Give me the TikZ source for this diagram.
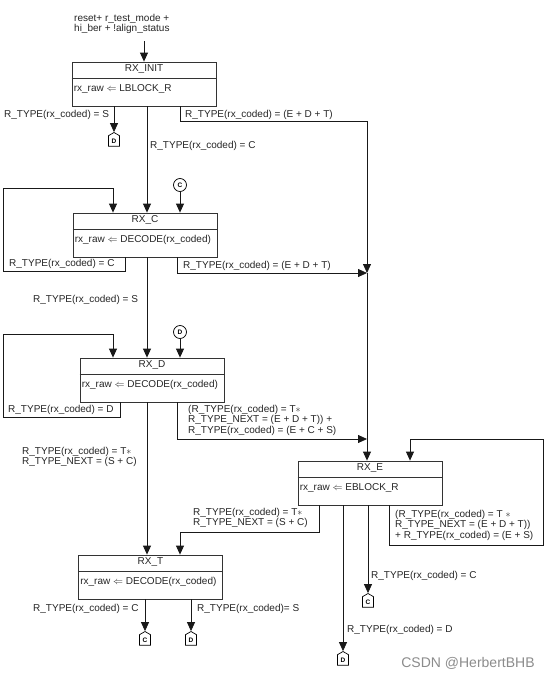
\documentclass[tikz,border=0pt]{standalone}
\usepackage{fontspec}
\setmainfont{Liberation Sans}
\usetikzlibrary{arrows.meta,shapes.symbols,calc}

\begin{document}
\begin{tikzpicture}[x=1pt,y=-1pt,>={Triangle[length=9pt,width=8pt]},
  lbl/.style={font=\fontsize{10}{10.5}\selectfont,text=black!85,inner sep=0pt,align=left},
  stato/.style={draw=black!80,line width=0.8pt,minimum width=144pt,minimum height=44pt,inner sep=0pt},
  titolo/.style={font=\fontsize{10}{12}\selectfont,text=black!85,inner sep=0pt},
  conn/.style={draw,circle,line width=0.7pt,minimum size=13pt,inner sep=0pt,font=\fontsize{6.5}{6.5}\selectfont\bfseries},
  pagina/.style={draw,signal,signal to=north,signal pointer angle=120,line width=0.7pt,minimum width=11pt,minimum height=12pt,inner sep=0pt,font=\fontsize{6.5}{6.5}\selectfont\bfseries},
  freccia/.style={->,line width=0.8pt,black!90}]
  \useasboundingbox (0,0) rectangle (554,680);
  \fill[white] (0,0) rectangle (554,680);
  % stati: titolo, separatore e azione
  \foreach \n/\p/\t/\c in {init/{144,84}/RX\_INIT/LBLOCK\_R,
      rxc/{145,235}/RX\_C/DECODE(rx\_coded),
      rxd/{152,380}/RX\_D/DECODE(rx\_coded),
      rxe/{370,483}/RX\_E/EBLOCK\_R,
      rxt/{150.5,577}/RX\_T/DECODE(rx\_coded)} {
    \node[stato] (\n) at (\p) {};
    \node[titolo] at ($(\n.north)+(0,7)$) {\t};
    \draw[line width=0.8pt,black!80] ($(\n.north west)+(0,17)$) -- ($(\n.north east)+(0,17)$);
    \node[lbl,anchor=west] at ($(\n.north west)+(2,27)$) {rx\_raw $\Leftarrow$ \c};
  }
  % connettori di pagina e punti di giunzione
  \node[conn] (cC) at (180,185) {C};
  \node[conn] (cD) at (180,332) {D};
  \node[pagina] (pD1) at (114,141) {D};
  \node[pagina] (pC2) at (368,602) {C};
  \node[pagina] (pD2) at (343,660) {D};
  \node[pagina] (pC3) at (145,640) {C};
  \node[pagina] (pD3) at (191,640) {D};
  \coordinate (e1) at (367,121);
  \coordinate (e2) at (367,273);
  \coordinate (e3) at (367,439);
  % ingresso
  \node[lbl,anchor=north west] (ingr) at (74,14) {reset+ r\_test\_mode +\\hi\_ber + !align\_status};
  \draw[freccia] ($(ingr.south -| init.north)+(0,7)$) -- (init.north);
  % uscite di RX_INIT
  \draw[freccia] (init.south -| pD1) -- (pD1.north);
  \draw[freccia] (init.south -| 147,0) -- (rxc.north -| 147,0);
  \draw[line width=0.8pt,black!90] (init.south -| 180,0) |- (e1);
  \draw[freccia] (e1) -- (e2);
  \draw[freccia] (e2) -- (rxe.north -| e2);
  \node[lbl,anchor=west] at (4,115) {R\_TYPE(rx\_coded) = S};
  \node[lbl,anchor=west] at (185,115) {R\_TYPE(rx\_coded) = (E + D + T)};
  \node[lbl,anchor=west] at (150,146) {R\_TYPE(rx\_coded) = C};
  % uscite di RX_C
  \draw[freccia] (cC) -- (rxc.north -| cC);
  \draw[freccia] (rxc.south -| 125,0) |- (3,271) |- (113,188) -- (rxc.north -| 113,0);
  \draw[freccia] (rxc.south -| 177,0) |- (e2);
  \draw[freccia] (rxc.south -| 147,0) -- (rxd.north -| 147,0);
  \node[lbl,anchor=west] at (9,264) {R\_TYPE(rx\_coded) = C};
  \node[lbl,anchor=west] at (183,266) {R\_TYPE(rx\_coded) = (E + D + T)};
  \node[lbl,anchor=west] at (33,300) {R\_TYPE(rx\_coded) = S};
  % uscite di RX_D
  \draw[freccia] (cD) -- (rxd.north -| cD);
  \draw[freccia] (rxd.south -| 120,0) |- (3,417) |- (113,334) -- (rxd.north -| 113,0);
  \draw[freccia] (rxd.south -| 177,0) |- (e3);
  \draw[freccia] (rxd.south -| 147,0) -- (rxt.north -| 147,0);
  \node[lbl,anchor=west] at (8,410) {R\_TYPE(rx\_coded) = D};
  \node[lbl,anchor=west] at (188,420) {(R\_TYPE(rx\_coded) = T$\ast$\\R\_TYPE\_NEXT = (E + D + T)) +\\R\_TYPE(rx\_coded) = (E + C + S)};
  \node[lbl,anchor=west] at (22,457) {R\_TYPE(rx\_coded) = T$\ast$\\R\_TYPE\_NEXT = (S + C)};
  % uscite di RX_E
  \draw[freccia] (rxe.south -| 389,0) |- (543,545) |- (410,439) -- (rxe.north -| 410,0);
  \draw[freccia] (rxe.south -| 319,0) |- (180,532) -- (rxt.north -| 180,0);
  \draw[freccia] (rxe.south -| pC2) -- (pC2.north);
  \draw[freccia] (rxe.south -| pD2) -- (pD2.north);
  \node[lbl,anchor=west] at (193,518) {R\_TYPE(rx\_coded) = T$\ast$\\R\_TYPE\_NEXT = (S + C)};
  \node[lbl,anchor=west] at (395,525) {(R\_TYPE(rx\_coded) = T $\ast$\\R\_TYPE\_NEXT = (E + D + T))\\+ R\_TYPE(rx\_coded) = (E + S)};
  \node[lbl,anchor=west] at (371,576) {R\_TYPE(rx\_coded) = C};
  \node[lbl,anchor=west] at (347,630) {R\_TYPE(rx\_coded) = D};
  % uscite di RX_T
  \draw[freccia] (rxt.south -| pC3) -- (pC3.north);
  \draw[freccia] (rxt.south -| pD3) -- (pD3.north);
  \node[lbl,anchor=west] at (33,609) {R\_TYPE(rx\_coded) = C};
  \node[lbl,anchor=west] at (197,609) {R\_TYPE(rx\_coded)= S};
  \node[font=\fontsize{14}{14}\selectfont,text=black!45] at (468,663) {CSDN @HerbertBHB};
\end{tikzpicture}
\end{document}
